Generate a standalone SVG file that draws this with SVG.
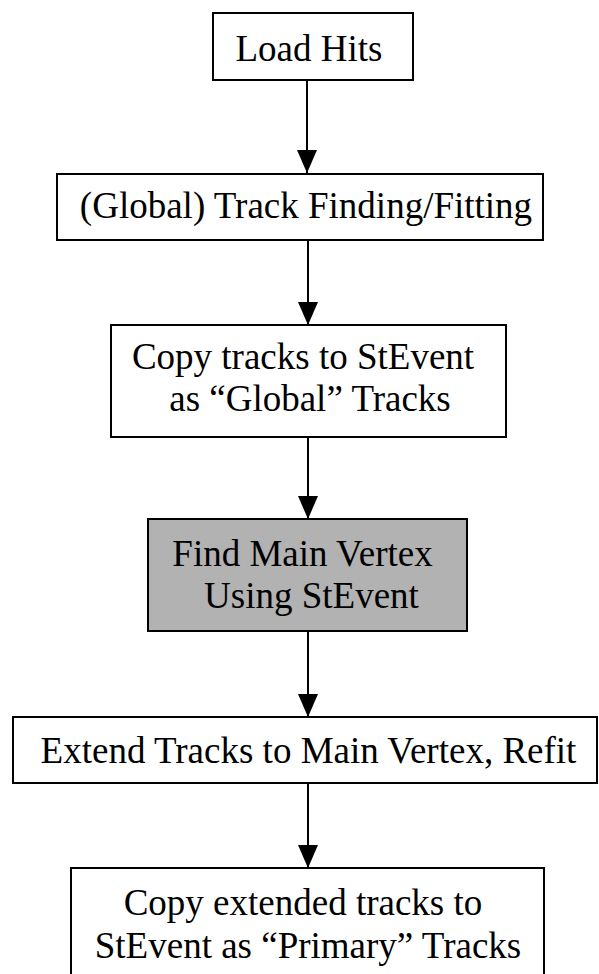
<svg xmlns="http://www.w3.org/2000/svg" width="599" height="974" viewBox="0 0 599 974">
<style>
.box{fill:#ffffff;stroke:#000000;stroke-width:2}
.grey{fill:#b2b2b2;stroke:#000000;stroke-width:2}
.lbl{font-family:'Liberation Serif','DejaVu Serif',serif;font-size:37px;fill:#000000;text-anchor:middle}
.edge{stroke:#000000;stroke-width:2;fill:none}
</style>
<defs>
<marker id="arr" markerUnits="userSpaceOnUse" markerWidth="24" markerHeight="20" refX="23" refY="10" orient="auto" viewBox="0 0 24 20">
<path d="M0,0 L23,10 L0,20 Z" fill="#000000"/>
</marker>
</defs>
<rect width="599" height="974" fill="#ffffff"/>
<g id="connectors">
<line class="edge" x1="307" y1="80" x2="307" y2="173" marker-end="url(#arr)"/>
<line class="edge" x1="308" y1="240" x2="308" y2="325" marker-end="url(#arr)"/>
<line class="edge" x1="308" y1="437" x2="308" y2="519" marker-end="url(#arr)"/>
<line class="edge" x1="308" y1="631" x2="308" y2="717" marker-end="url(#arr)"/>
<line class="edge" x1="308" y1="783" x2="308" y2="868" marker-end="url(#arr)"/>
</g>
<g id="load-hits">
<rect class="box" x="213" y="13" width="200" height="67"/>
<text class="lbl" x="309" y="61">Load Hits</text>
</g>
<g id="track-finding">
<rect class="box" x="57" y="174" width="486" height="66"/>
<text class="lbl" x="306" y="218">(Global) Track Finding/Fitting</text>
</g>
<g id="copy-global">
<rect class="box" x="111" y="325" width="395" height="112"/>
<text class="lbl" x="303" y="369">Copy tracks to StEvent</text>
<text class="lbl" x="310" y="411">as “Global” Tracks</text>
</g>
<g id="find-vertex">
<rect class="grey" x="148" y="519" width="319" height="112"/>
<text class="lbl" x="302.5" y="566">Find Main Vertex</text>
<text class="lbl" x="311.5" y="608">Using StEvent</text>
</g>
<g id="extend-tracks">
<rect class="box" x="13" y="717" width="584" height="66"/>
<text class="lbl" x="308.5" y="763">Extend Tracks to Main Vertex, Refit</text>
</g>
<g id="copy-primary">
<rect class="box" x="71" y="868" width="473" height="130"/>
<text class="lbl" x="303" y="915">Copy extended tracks to</text>
<text class="lbl" x="308" y="958">StEvent as “Primary” Tracks</text>
</g>
</svg>
